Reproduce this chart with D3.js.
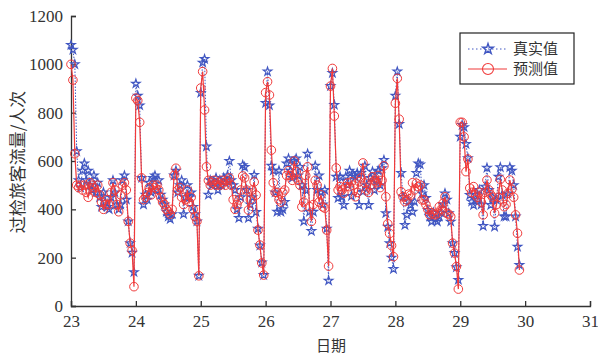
<!DOCTYPE html>
<html>
<head>
<meta charset="utf-8">
<script src="https://cdn.jsdelivr.net/npm/d3@7"></script>
<style>
  body { margin: 0; background: #fff; }
  svg { display: block; }
  .axis text { font-family: "Liberation Serif", "DejaVu Serif", serif; font-size: 17px; fill: #333; }
  .axis path, .axis line { stroke: #333; stroke-width: 1.3; }
  .cjk { font-family: "Noto Sans CJK SC", sans-serif; font-size: 17px; fill: #333; }
</style>
</head>
<body>
<svg width="598" height="355"></svg>
<script>
// days on the x axis, samples are spread evenly inside each day
const days = [23, 24, 25, 26, 27, 28, 29];
const perDay = 34;
const xTicks = [23, 24, 25, 26, 27, 28, 29, 30, 31];
const yTicks = [0, 200, 400, 600, 800, 1000, 1200];

// 真实值
const actualByDay = [
  [1080,1060,1000,640,520,490,560,590,520,560,500,480,540,470,510,450,410,470,430,410,400,450,520,470,420,400,420,520,540,440,350,260,220,140],
  [920,870,830,530,420,460,440,510,470,530,540,480,520,460,440,420,390,370,360,380,540,560,470,500,520,380,450,500,450,470,410,380,350,125],
  [882,1007,1022,660,460,520,500,510,530,480,520,500,530,510,540,600,520,500,480,400,364,450,583,575,480,364,420,450,542,389,320,250,180,128],
  [840,970,830,580,560,470,390,560,390,400,430,590,610,560,530,600,610,540,575,500,350,480,630,390,310,390,580,480,540,470,420,480,320,105],
  [910,964,832,535,447,535,452,418,535,500,560,455,540,535,550,418,550,473,580,500,418,530,556,480,520,560,500,570,604,384,328,260,200,153],
  [870,970,753,550,452,335,377,432,418,390,432,550,590,586,466,500,447,397,370,349,386,360,349,370,386,420,466,440,384,349,260,219,160,108],
  [700,749,740,670,612,459,432,418,460,440,480,420,331,494,572,480,418,450,328,439,535,574,460,370,370,466,574,560,500,370,245,170]
];

// 预测值
const predictedByDay = [
  [1000,935,630,500,490,500,480,500,470,450,510,500,490,470,500,460,430,400,420,440,420,470,510,480,420,390,460,500,510,480,350,260,230,80],
  [860,850,760,530,440,450,470,490,460,500,490,500,480,450,430,420,400,390,380,400,540,570,480,490,450,420,440,480,430,450,400,370,350,125],
  [902,970,811,576,520,500,510,520,500,510,500,520,510,500,520,530,500,440,400,420,439,480,538,530,480,397,440,480,513,459,314,252,178,128],
  [883,928,873,645,510,470,470,440,430,470,480,540,560,540,520,600,556,520,500,410,430,540,576,411,350,420,520,500,430,460,410,405,314,165],
  [910,983,786,571,480,494,480,467,494,509,494,514,500,452,470,514,530,592,509,480,470,500,535,520,510,540,490,520,580,452,340,300,250,204],
  [839,942,773,473,452,432,439,463,459,510,480,508,494,500,439,439,420,400,377,386,380,377,384,411,400,425,452,384,380,370,260,219,163,70],
  [760,760,700,556,608,488,470,494,460,450,470,430,377,470,521,480,460,450,384,420,450,524,480,411,420,466,521,483,450,377,301,149]
];

const blue = '#4157c2';
const red = '#f03a3a';

const svg = d3.select('svg');
const x = d3.scaleLinear().domain([23, 31]).range([71, 590]);
const y = d3.scaleLinear().domain([0, 1200]).range([306, 16]);

function toPoints(rows) {
  const pts = [];
  rows.forEach((row, k) => {
    row.forEach((v, i) => pts.push({ t: days[k] + i / perDay, v: v }));
  });
  return pts;
}
const actual = toPoints(actualByDay);
const predicted = toPoints(predictedByDay);

const line = d3.line().x(d => x(d.t)).y(d => y(d.v));
const star = d3.symbol().type(d3.symbolStar).size(22);

// axes, ticks point inwards
svg.append('g').attr('class', 'axis')
  .attr('transform', 'translate(0,306)')
  .call(d3.axisBottom(x).tickValues(xTicks).tickFormat(d3.format('d')).tickSize(-5).tickPadding(9));
svg.append('g').attr('class', 'axis')
  .attr('transform', 'translate(71,0)')
  .call(d3.axisLeft(y).tickValues(yTicks).tickFormat(d3.format('d')).tickSize(-5).tickPadding(8));

// 真实值
svg.append('path').datum(actual)
  .attr('fill', 'none').attr('stroke', blue).attr('stroke-width', 1)
  .attr('stroke-dasharray', '1.5,1.5').attr('d', line);
svg.append('g').selectAll('path').data(actual).join('path')
  .attr('transform', d => `translate(${x(d.t)},${y(d.v)})`)
  .attr('d', star).attr('fill', 'none').attr('stroke', blue).attr('stroke-width', 1.2);

// 预测值
svg.append('path').datum(predicted)
  .attr('fill', 'none').attr('stroke', red).attr('stroke-width', 1.2).attr('d', line);
svg.append('g').selectAll('circle').data(predicted).join('circle')
  .attr('cx', d => x(d.t)).attr('cy', d => y(d.v)).attr('r', 4.3)
  .attr('fill', 'none').attr('stroke', red).attr('stroke-width', 1);

// axis titles
svg.append('text').attr('class', 'cjk')
  .attr('transform', 'translate(24,162) rotate(-90)')
  .attr('text-anchor', 'middle').text('过检旅客流量/人次');
svg.append('text').attr('class', 'cjk')
  .attr('x', 331).attr('y', 351).attr('text-anchor', 'middle')
  .style('font-size', '15px').text('日期');

// legend
const legend = svg.append('g').attr('transform', 'translate(460,33)');
legend.append('rect').attr('width', 114).attr('height', 51)
  .attr('fill', '#fff').attr('stroke', '#222').attr('stroke-width', 1.2);
const items = [
  { name: '真实值', color: blue, dash: '1.5,2.5', mark: 'star' },
  { name: '预测值', color: red, dash: null, mark: 'circle' }
];
items.forEach((it, i) => {
  const g = legend.append('g').attr('transform', `translate(0,${16 + i * 20})`);
  g.append('line').attr('x1', 8).attr('x2', 47)
    .attr('stroke', it.color).attr('stroke-width', it.dash ? 1 : 1.2)
    .attr('stroke-dasharray', it.dash);
  if (it.mark === 'star') {
    g.append('path').attr('transform', 'translate(28,0)').attr('d', d3.symbol().type(d3.symbolStar).size(34))
      .attr('fill', 'none').attr('stroke', it.color).attr('stroke-width', 1.4);
  } else {
    g.append('circle').attr('cx', 28).attr('r', 5.5)
      .attr('fill', 'none').attr('stroke', it.color).attr('stroke-width', 1.1);
  }
  g.append('text').attr('class', 'cjk').attr('x', 53).attr('dy', '0.36em')
    .style('font-size', '15px').text(it.name);
});
</script>
</body>
</html>
